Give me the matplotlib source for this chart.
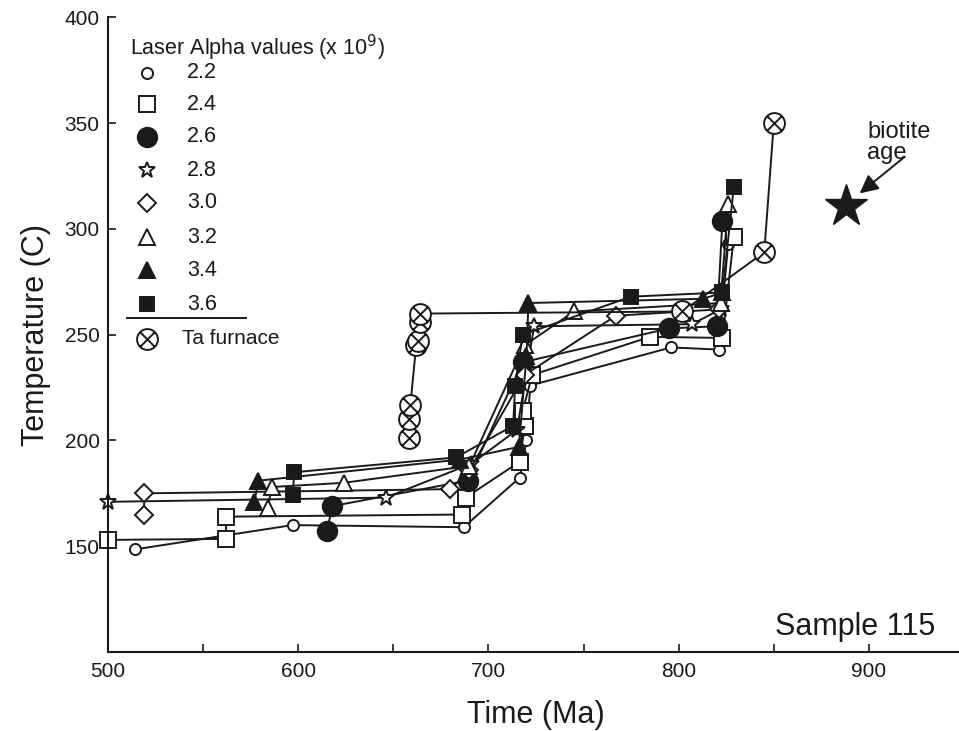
import matplotlib.pyplot as plt
from matplotlib.path import Path

plt.rcParams["font.family"] = ["Liberation Sans", "DejaVu Sans"]

# time (Ma) / temperature (C) paths, one per laser alpha value
t22 = [514, 597, 687, 716.5, 720, 722, 796, 821, 826]
T22 = [148.5, 160, 159, 182.5, 200, 226, 244, 243, 293]

t24 = [500, 562, 562, 686, 688, 716.5, 719, 718, 723, 785, 823, 829]
T24 = [153, 153.5, 164, 165, 173, 190, 207, 214, 231, 249, 248.5, 296]

t26 = [615, 618, 689, 718, 795, 820, 823]
T26 = [157, 169, 181, 237, 253, 254, 304]

t28 = [500, 646, 691, 715, 724, 807, 822]
T28 = [171, 173, 189, 205, 254, 255, 262]

t30 = [519, 519, 680, 690, 719, 767, 821]
T30 = [165, 175, 177, 186, 231, 259, 262]

t32 = [584, 586, 624, 690, 719, 745, 822, 826]
T32 = [168, 178, 180, 188, 245, 261, 265, 312]

t34 = [577, 579, 685, 716, 720, 721, 813, 823]
T34 = [171, 181, 191, 197, 240, 265, 267, 270]

t36 = [597, 598, 683, 713, 714, 718, 775, 823, 829]
T36 = [174, 185, 192, 207, 226, 250, 268, 270, 320]

t_ta = [658, 658, 659, 662, 663, 664, 664, 802, 845, 850]
T_ta = [201, 210, 217, 245, 247, 256, 260, 261, 289, 350]

biotite_t = [888]
biotite_T = [311]

labels = ["2.2", "2.4", "2.6", "2.8", "3.0", "3.2", "3.4", "3.6"]

ta_marker = Path.make_compound_path(
    Path.unit_circle(),
    Path([(-0.707, -0.707), (0.707, 0.707)], [Path.MOVETO, Path.LINETO]),
    Path([(-0.707, 0.707), (0.707, -0.707)], [Path.MOVETO, Path.LINETO]),
)

styles = [
    dict(marker="o", ms=8, mfc="white"),
    dict(marker="s", ms=12, mfc="white"),
    dict(marker="o", ms=14, mfc="#1a1a1a"),
    dict(marker="*", ms=12, mfc="white"),
    dict(marker="D", ms=9.5, mfc="white"),
    dict(marker="^", ms=12, mfc="white"),
    dict(marker="^", ms=12, mfc="#1a1a1a"),
    dict(marker="s", ms=10, mfc="#1a1a1a"),
]
series = [(t22, T22), (t24, T24), (t26, T26), (t28, T28),
          (t30, T30), (t32, T32), (t34, T34), (t36, T36)]
ink = "#1a1a1a"

fig = plt.figure(figsize=(9.59, 7.31), dpi=100)
ax = fig.add_axes([108 / 959, 79 / 731, 856 / 959, 634.5 / 731])

for (t, T), st in zip(series, styles):
    ax.plot(t, T, color=ink, lw=1.4, mec=ink, mew=1.4, clip_on=False, **st)

ax.plot(t_ta, T_ta, color=ink, lw=1.4, marker=ta_marker, ms=15, mfc="white",
        mec=ink, mew=1.4)

ax.plot(biotite_t, biotite_T, marker="*", ms=32, color=ink, ls="none")
ax.annotate("", xy=(894, 316), xytext=(920, 335),
            arrowprops=dict(arrowstyle="-|>", color=ink, lw=1.4,
                            mutation_scale=28))
ax.text(899, 341, "biotite\nage", fontsize=17, ha="left", va="center",
        linespacing=0.95, color=ink)

ax.text(935, 112, "Sample 115", fontsize=22, ha="right", va="center", color=ink)

# legend drawn by hand in axes fraction
leg_x = (147 - 108) / 856
txt_x = (187 - 108) / 856
row_px = [73, 104, 137, 170, 203, 237, 270, 304]


def fy(py):
    return (652 - py) / 634.5


ax.text((130 - 108) / 856, fy(48), "Laser Alpha values (x 10$^9$)", fontsize=15.5,
        transform=ax.transAxes, va="center", ha="left", color=ink)
for py, lab, st in zip(row_px, labels, styles):
    ax.plot([leg_x], [fy(py)], transform=ax.transAxes, color=ink, mec=ink,
            mew=1.4, ls="none", **st)
    ax.text(txt_x, fy(py), lab, fontsize=15.5, transform=ax.transAxes,
            va="center", ha="left", color=ink)
ax.plot([(127 - 108) / 856, (246 - 108) / 856], [fy(318), fy(318)],
        transform=ax.transAxes, color=ink, lw=1.4)
ax.plot([leg_x], [fy(339)], transform=ax.transAxes, marker=ta_marker, ms=15,
        mfc="white", mec=ink, mew=1.4, ls="none")
ax.text((182 - 108) / 856, fy(339), "Ta furnace", fontsize=15, transform=ax.transAxes,
        va="center", ha="left", color=ink)

ax.set_xlim(500, 950)
ax.set_ylim(100, 400)
ax.set_xticks([500, 600, 700, 800, 900])
ax.set_xticks([550, 650, 750, 850], minor=True)
ax.set_yticks([150, 200, 250, 300, 350, 400])
ax.tick_params(which="both", direction="in", length=6, width=1.2,
               labelsize=15, colors=ink)
ax.tick_params(axis="x", pad=7)
ax.tick_params(axis="y", pad=6)
for side in ["top", "right"]:
    ax.spines[side].set_visible(False)
for side in ["left", "bottom"]:
    ax.spines[side].set_linewidth(1.5)
    ax.spines[side].set_color(ink)

ax.set_xlabel("Time (Ma)", fontsize=22, labelpad=14, color=ink)
ax.set_ylabel("Temperature (C)", fontsize=22, labelpad=10, color=ink)

fig.savefig("out.png", dpi=100)
